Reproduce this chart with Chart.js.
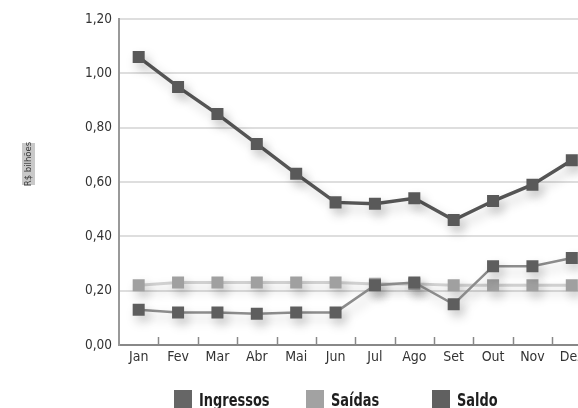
<!DOCTYPE html>
<html>
<head>
<meta charset="utf-8">
<script src="https://cdn.jsdelivr.net/npm/chart.js@4/dist/chart.umd.min.js"></script>
<style>
  html, body { margin: 0; padding: 0; background: #fff; overflow: hidden; }
  #wrap { width: 600px; height: 408px; position: relative; }
</style>
</head>
<body>
<div id="wrap"><canvas id="c" width="600" height="408"></canvas></div>
<script>
// Monthly figures, R$ billions
const months = ['Jan', 'Fev', 'Mar', 'Abr', 'Mai', 'Jun', 'Jul', 'Ago', 'Set', 'Out', 'Nov', 'Dez'];
const ingressos = [0.13, 0.12, 0.12, 0.115, 0.12, 0.12, 0.22, 0.23, 0.15, 0.29, 0.29, 0.32];
const saidas = [0.22, 0.23, 0.23, 0.23, 0.23, 0.23, 0.225, 0.225, 0.22, 0.22, 0.22, 0.22];
const saldo = [1.06, 0.95, 0.85, 0.74, 0.63, 0.525, 0.52, 0.54, 0.46, 0.53, 0.59, 0.68];
const yTicks = [0, 0.2, 0.4, 0.6, 0.8, 1.0, 1.2];
const yTitle = 'R$ bilhões';

const FAMILY = '"DejaVu Sans", sans-serif';
// "condensed" rides along in the weight slot of the font shorthand
const NARROW = 'normal condensed';
const NARROW_BOLD = 'bold condensed';

// soft drop shadow under the series
const shadowPlugin = {
  id: 'shadow',
  beforeDatasetsDraw(chart) {
    const ctx = chart.ctx;
    ctx.save();
    ctx.shadowColor = 'rgba(0,0,0,0.22)';
    ctx.shadowBlur = 11;
    ctx.shadowOffsetX = 4;
    ctx.shadowOffsetY = 6;
  },
  afterDatasetsDraw(chart) {
    chart.ctx.restore();
  }
};

// small category separators rising from the x axis, axis title box, legend
const decorPlugin = {
  id: 'decor',
  afterDraw(chart) {
    const ctx = chart.ctx;
    const area = chart.chartArea;
    ctx.save();
    ctx.strokeStyle = '#888';
    ctx.lineWidth = 1.5;
    const step = (area.right - area.left) / months.length;
    for (let i = 1; i < months.length; i++) {
      const px = Math.round(area.left + i * step) + 0.5;
      ctx.beginPath();
      ctx.moveTo(px, area.bottom);
      ctx.lineTo(px, area.bottom - 8);
      ctx.stroke();
    }

    // y axis title in a grey box
    ctx.fillStyle = '#c9c9c9';
    ctx.fillRect(22, 143, 13, 42);
    ctx.translate(28.5, 164);
    ctx.rotate(-Math.PI / 2);
    ctx.fillStyle = '#3a3a3a';
    ctx.font = NARROW + ' 9.5px ' + FAMILY;
    ctx.textAlign = 'center';
    ctx.textBaseline = 'middle';
    ctx.fillText(yTitle, 0, 0.5);
    ctx.restore();

    // legend: squares plus tall, narrow bold labels
    const legendX = [174, 306, 432];
    chart.data.datasets.forEach((ds, i) => {
      ctx.save();
      ctx.fillStyle = ds.legendColor;
      ctx.fillRect(legendX[i], 390, 18, 18);
      ctx.translate(legendX[i] + 25, 406);
      ctx.scale(0.8, 1);
      ctx.font = NARROW_BOLD + ' 18px ' + FAMILY;
      ctx.textBaseline = 'alphabetic';
      ctx.fillStyle = '#1e1e1e';
      ctx.fillText(ds.label, 0, 0);
      ctx.restore();
    });
  }
};

new Chart(document.getElementById('c'), {
  type: 'line',
  data: {
    labels: months,
    datasets: [
      {
        label: 'Ingressos', data: ingressos,
        borderColor: '#8c8c8c', borderWidth: 2.5,
        pointBackgroundColor: '#5e5e5e', pointBorderWidth: 0,
        pointStyle: 'rect', pointRadius: 8.5,
        legendColor: '#666666'
      },
      {
        label: 'Saídas', data: saidas,
        borderColor: '#d0d0d0', borderWidth: 3,
        pointBackgroundColor: '#a0a0a0', pointBorderWidth: 0,
        pointStyle: 'rect', pointRadius: 8.5,
        legendColor: '#a2a2a2'
      },
      {
        label: 'Saldo', data: saldo,
        borderColor: '#555555', borderWidth: 3.5,
        pointBackgroundColor: '#595959', pointBorderWidth: 0,
        pointStyle: 'rect', pointRadius: 8.5,
        legendColor: '#606060'
      }
    ]
  },
  options: {
    responsive: false,
    animation: false,
    events: [],
    layout: { padding: { top: 19, right: 0, left: 0, bottom: 0 } },
    plugins: {
      legend: { display: false },
      tooltip: { enabled: false }
    },
    scales: {
      x: {
        offset: true,
        grid: { display: false, drawTicks: false },
        border: { display: true, color: '#888', width: 2 },
        ticks: { color: '#333', padding: 4, font: { family: FAMILY, size: 14, weight: NARROW } },
        afterFit(s) { s.height = 63; }
      },
      y: {
        min: 0, max: 1.2,
        afterBuildTicks(s) { s.ticks = yTicks.map(v => ({ value: v })); },
        grid: { color: '#dedede', lineWidth: 2, drawTicks: false },
        border: { display: true, color: '#999', width: 2 },
        ticks: {
          color: '#333', padding: 7,
          font: { family: FAMILY, size: 13.5, weight: NARROW },
          callback: v => v.toFixed(2).replace('.', ',')
        },
        afterFit(s) { s.width = 119; }
      }
    }
  },
  plugins: [shadowPlugin, decorPlugin]
});
</script>
</body>
</html>
